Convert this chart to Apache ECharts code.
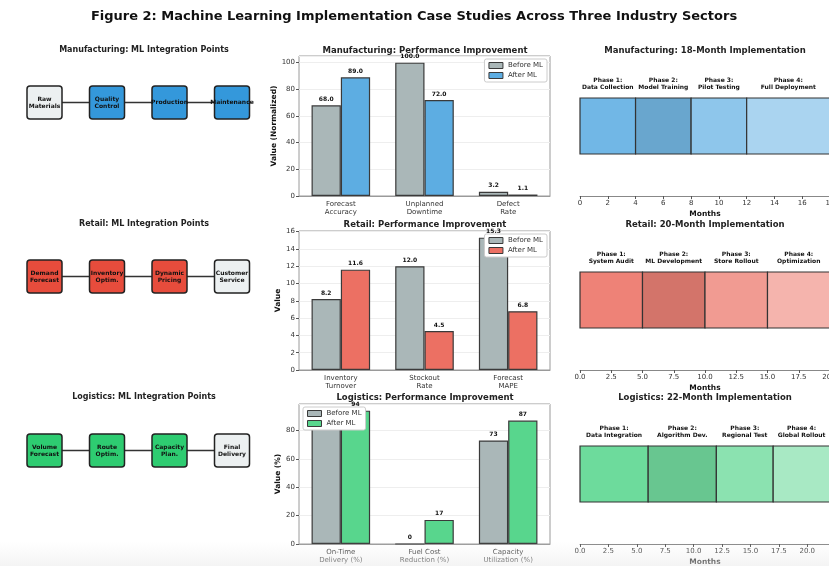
<!DOCTYPE html>
<html>
<head>
<meta charset="utf-8">
<script src="https://cdn.jsdelivr.net/npm/echarts@6/dist/echarts.min.js"></script>
<style>
  html, body { margin: 0; padding: 0; background: #ffffff; }
  #chart { width: 829px; height: 566px; }
</style>
</head>
<body>
<div id="chart"></div>
<script>
const FONT = "'DejaVu Sans', 'Liberation Sans', sans-serif";

// ---- Integration flows ----
const mfgSteps = ['Raw\nMaterials', 'Quality\nControl', 'Production', 'Maintenance'];
const mfgML = [false, true, true, true];
const retSteps = ['Demand\nForecast', 'Inventory\nOptim.', 'Dynamic\nPricing', 'Customer\nService'];
const retML = [true, true, true, false];
const logSteps = ['Volume\nForecast', 'Route\nOptim.', 'Capacity\nPlan.', 'Final\nDelivery'];
const logML = [true, true, true, false];

// ---- Performance metrics ----
const mfgMetrics = ['Forecast\nAccuracy', 'Unplanned\nDowntime', 'Defect\nRate'];
const mfgBefore = [68.0, 100.0, 3.2];
const mfgAfter = [89.0, 72.0, 1.1];
const retMetrics = ['Inventory\nTurnover', 'Stockout\nRate', 'Forecast\nMAPE'];
const retBefore = [8.2, 12.0, 15.3];
const retAfter = [11.6, 4.5, 6.8];
const logMetrics = ['On-Time\nDelivery (%)', 'Fuel Cost\nReduction (%)', 'Capacity\nUtilization (%)'];
const logBefore = [82, 0, 73];
const logAfter = [94, 17, 87];

// ---- Implementation phases (months) ----
const mfgPhases = ['Phase 1:\nData Collection', 'Phase 2:\nModel Training', 'Phase 3:\nPilot Testing', 'Phase 4:\nFull Deployment'];
const mfgStart = [0, 4, 8, 12];
const mfgEnd = [4, 8, 12, 18];
const retPhases = ['Phase 1:\nSystem Audit', 'Phase 2:\nML Development', 'Phase 3:\nStore Rollout', 'Phase 4:\nOptimization'];
const retStart = [0, 5, 10, 15];
const retEnd = [5, 10, 15, 20];
const logPhases = ['Phase 1:\nData Integration', 'Phase 2:\nAlgorithm Dev.', 'Phase 3:\nRegional Test', 'Phase 4:\nGlobal Rollout'];
const logStart = [0, 6, 12, 17];
const logEnd = [6, 12, 17, 22];
const monthTicks = [2, 2.5, 2.5];
const monthsTotal = [18, 20, 22];

const sectors = [
  {
    name: 'Manufacturing', base: '#3498db', after: '#5dade2',
    steps: mfgSteps, ml: mfgML,
    metrics: mfgMetrics, before: mfgBefore, afterVals: mfgAfter,
    yName: 'Value (Normalized)', yMax: 105, yInt: 20, decimals: 1,
    legend: { right: 282, top: 59 },
    phases: mfgPhases, start: mfgStart, end: mfgEnd,
    phaseColors: ['#71b7e6', '#69a6ce', '#8ec6eb', '#aad4f0'],
    rowTop: 46
  },
  {
    name: 'Retail', base: '#e74c3c', after: '#ec7063',
    steps: retSteps, ml: retML,
    metrics: retMetrics, before: retBefore, afterVals: retAfter,
    yName: 'Value', yMax: 16.07, yInt: 2, decimals: 1,
    legend: { right: 282, top: 234 },
    phases: retPhases, start: retStart, end: retEnd,
    phaseColors: ['#ee8277', '#d3746a', '#f19b92', '#f5b4ad'],
    rowTop: 220
  },
  {
    name: 'Logistics', base: '#2ecc71', after: '#58d68d',
    steps: logSteps, ml: logML,
    metrics: logMetrics, before: logBefore, afterVals: logAfter,
    yName: 'Value (%)', yMax: 98.7, yInt: 20, decimals: 0,
    legend: { left: 303, top: 407 },
    phases: logPhases, start: logStart, end: logEnd,
    phaseColors: ['#6ddb9c', '#68c690', '#8be2b0', '#a8e9c4'],
    rowTop: 393
  }
];

// Vertical layout of each row
const flowCenterY = [102.5, 276.5, 450.5];
const barTop = [56, 231, 404];
const barHeight = [140, 139, 140];
const tlTop = [70, 244, 418];

const grid = [], xAxis = [], yAxis = [], series = [], title = [], legend = [];

title.push({
  text: 'Figure 2: Machine Learning Implementation Case Studies Across Three Industry Sectors',
  left: 414, top: 10, textAlign: 'center', padding: 0,
  textStyle: { fontFamily: FONT, fontSize: 13, fontWeight: 'bold', color: '#111' }
});

const titleStyle = { fontFamily: FONT, fontSize: 8.5, fontWeight: 'bold', color: '#222' };

sectors.forEach((s, r) => {
  const gFlow = grid.length;
  // ---------- flow diagram ----------
  grid.push({ left: 13.25, width: 250, top: flowCenterY[r] - 16.5, height: 33, show: false, outerBoundsMode: 'none' });
  xAxis.push({ gridIndex: gFlow, type: 'value', min: -0.5, max: 3.5, show: false });
  yAxis.push({ gridIndex: gFlow, type: 'value', min: 0, max: 1, show: false });
  title.push({
    text: s.name + ': ML Integration Points', left: 144, top: s.rowTop, textAlign: 'center', padding: 0,
    textStyle: Object.assign({}, titleStyle, { fontSize: 8 })
  });
  series.push({
    type: 'line', xAxisIndex: gFlow, yAxisIndex: gFlow, symbol: 'none', silent: true, z: 1,
    lineStyle: { color: '#333', width: 1.5 },
    data: s.steps.map((_, i) => [i, 0.5])
  });
  series.push({
    type: 'custom', xAxisIndex: gFlow, yAxisIndex: gFlow, clip: false, z: 3,
    data: s.steps.map((st, i) => ({ value: [i, 0.5], name: st })),
    renderItem: (params, api) => {
      const i = params.dataIndex;
      const c = api.coord([api.value(0), api.value(1)]);
      const w = 35, h = 33;
      return {
        type: 'group',
        children: [
          {
            type: 'rect',
            shape: { x: c[0] - w / 2, y: c[1] - h / 2, width: w, height: h, r: 3 },
            style: { fill: s.ml[i] ? s.base : '#ecf0f1', stroke: '#222', lineWidth: 1.5 }
          },
          {
            type: 'text',
            style: {
              text: s.steps[i], x: c[0], y: c[1], align: 'center', verticalAlign: 'middle',
              fontFamily: FONT, fontSize: 6, fontWeight: 'bold', fill: '#111', lineHeight: 7
            }
          }
        ]
      };
    }
  });

  // ---------- bar chart ----------
  const gBar = grid.length;
  grid.push({ left: 299, width: 251, top: barTop[r], height: barHeight[r], show: true,
    borderColor: '#9a9a9a', borderWidth: 1, outerBoundsMode: 'none' });
  xAxis.push({
    gridIndex: gBar, type: 'category', data: s.metrics,
    axisLine: { lineStyle: { color: '#9a9a9a' } },
    axisTick: { alignWithLabel: true, length: 3, lineStyle: { color: '#555' } },
    axisLabel: { fontFamily: FONT, fontSize: 7, color: '#333', lineHeight: 8, margin: 4 }
  });
  yAxis.push({
    gridIndex: gBar, type: 'value', min: 0, max: s.yMax, interval: s.yInt,
    name: s.yName, nameLocation: 'middle', nameGap: r === 0 ? 19 : 17,
    nameTextStyle: { fontFamily: FONT, fontSize: 7.5, fontWeight: 'bold', color: '#111' },
    axisLine: { show: false },
    axisTick: { show: true, length: 3, lineStyle: { color: '#555' } },
    axisLabel: { fontFamily: FONT, fontSize: 7, color: '#333', margin: 4, showMaxLabel: s.yMax % s.yInt === 0 },
    splitLine: { lineStyle: { color: '#eeeeee', width: 1 } }
  });
  title.push({
    text: s.name + ': Performance Improvement', left: 425, top: s.rowTop, textAlign: 'center', padding: 0,
    textStyle: titleStyle
  });
  const fmt = p => Number(p.value).toFixed(s.decimals);
  const barLabel = { show: true, position: 'top', distance: 3, formatter: fmt,
    fontFamily: FONT, fontSize: 6, fontWeight: 'bold', color: '#111' };
  series.push({
    name: 'Before ML', type: 'bar', xAxisIndex: gBar, yAxisIndex: gBar,
    barWidth: '35%', barGap: '0%', data: s.before,
    itemStyle: { color: '#aab7b8', borderColor: '#3a3a3a', borderWidth: 1.2 },
    label: barLabel
  });
  series.push({
    name: 'After ML', type: 'bar', xAxisIndex: gBar, yAxisIndex: gBar,
    barWidth: '35%', barGap: '0%', data: s.afterVals,
    itemStyle: { color: s.after, borderColor: '#3a3a3a', borderWidth: 1.2 },
    label: barLabel
  });
  legend.push(Object.assign({
    orient: 'vertical', itemWidth: 14, itemHeight: 6, itemGap: 3,
    padding: [3, 4, 3, 4], backgroundColor: '#ffffff', borderColor: '#cccccc', borderWidth: 1, borderRadius: 2,
    textStyle: { fontFamily: FONT, fontSize: 7, color: '#333' },
    selectedMode: false,
    data: [
      { name: 'Before ML', icon: 'rect', itemStyle: { color: '#aab7b8', borderColor: '#3a3a3a', borderWidth: 1 } },
      { name: 'After ML', icon: 'rect', itemStyle: { color: s.after, borderColor: '#3a3a3a', borderWidth: 1 } }
    ]
  }, s.legend));

  // ---------- timeline ----------
  const gTl = grid.length;
  const endsOnTick = monthsTotal[r] % monthTicks[r] === 0;
  grid.push({ left: 580, width: 250, top: tlTop[r], height: 126, show: false, outerBoundsMode: 'none' });
  xAxis.push({
    gridIndex: gTl, type: 'value', min: 0, max: monthsTotal[r], interval: monthTicks[r],
    name: 'Months', nameLocation: 'middle', nameGap: 14,
    nameTextStyle: { fontFamily: FONT, fontSize: 7.5, fontWeight: 'bold', color: '#111' },
    axisLine: { onZero: false, lineStyle: { color: '#888', width: 1 } },
    axisTick: { length: 3, lineStyle: { color: '#555' } },
    axisLabel: {
      fontFamily: FONT, fontSize: 7, color: '#333', margin: 4,
      showMaxLabel: endsOnTick,
      formatter: v => (monthTicks[r] % 1 === 0 ? String(v) : v.toFixed(1))
    },
    splitLine: { show: false }
  });
  yAxis.push({ gridIndex: gTl, type: 'value', min: -0.625, max: 0.5, show: false });
  title.push({
    text: s.name + ': ' + monthsTotal[r] + '-Month Implementation', left: 705, top: s.rowTop, textAlign: 'center', padding: 0,
    textStyle: titleStyle
  });
  series.push({
    type: 'custom', xAxisIndex: gTl, yAxisIndex: gTl, clip: false,
    data: s.phases.map((ph, i) => ({ value: [s.start[i], s.end[i], i], name: ph })),
    renderItem: (params, api) => {
      const i = api.value(2);
      const p0 = api.coord([api.value(0), 0.25]);
      const p1 = api.coord([api.value(1), -0.25]);
      return {
        type: 'group',
        children: [
          {
            type: 'rect',
            shape: { x: p0[0], y: p0[1], width: p1[0] - p0[0], height: p1[1] - p0[1] },
            style: { fill: s.phaseColors[i], stroke: '#333', lineWidth: 1.2 }
          },
          {
            type: 'text',
            style: {
              text: s.phases[i], x: (p0[0] + p1[0]) / 2, y: p0[1] - 7,
              align: 'center', verticalAlign: 'bottom',
              fontFamily: FONT, fontSize: 6, fontWeight: 'bold', fill: '#111', lineHeight: 7
            }
          }
        ]
      };
    }
  });
});

const chart = echarts.init(document.getElementById('chart'), null, { renderer: 'canvas' });
chart.setOption({
  backgroundColor: '#ffffff',
  animation: false,
  title, legend, grid, xAxis, yAxis, series,
  graphic: [{
    type: 'rect', left: 0, top: 542, z: 100, silent: true,
    shape: { width: 829, height: 24 },
    style: {
      fill: new echarts.graphic.LinearGradient(0, 0, 0, 1, [
        { offset: 0, color: 'rgba(235,235,235,0)' },
        { offset: 1, color: 'rgba(235,235,235,0.55)' }
      ])
    }
  }]
});
</script>
</body>
</html>
